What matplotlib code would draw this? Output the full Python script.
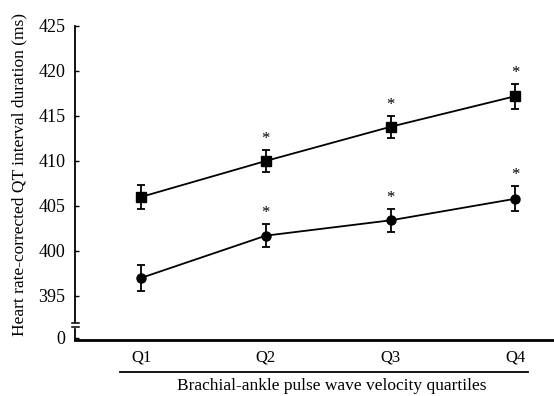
import numpy as np
import matplotlib
matplotlib.use("Agg")
import matplotlib.pyplot as plt
from matplotlib.lines import Line2D

categories = ["Q1", "Q2", "Q3", "Q4"]
upper_mean = [406.0, 410.0, 413.8, 417.2]
upper_err = [1.3, 1.2, 1.2, 1.4]
lower_mean = [397.0, 401.7, 403.4, 405.8]
lower_err = [1.4, 1.3, 1.3, 1.4]
upper_sig = [False, True, True, True]
lower_sig = [False, True, True, True]
yticks = [0, 395, 400, 405, 410, 415, 420, 425]

plt.rcParams['font.family'] = ['Liberation Serif', 'DejaVu Serif']

BREAK = 392.5
ZERO_POS = 390.35

def fwd(y):
    y = np.asarray(y, dtype=float)
    return np.where(y >= BREAK, y, ZERO_POS + y * (BREAK - ZERO_POS) / BREAK)

def inv(t):
    t = np.asarray(t, dtype=float)
    return np.where(t >= BREAK, t, (t - ZERO_POS) * BREAK / (BREAK - ZERO_POS))

fig = plt.figure(figsize=(5.54, 3.96), dpi=100)
ax = fig.add_axes([75/554, 1-340/396, 1-75/554, (340-26)/396])
ax.set_yscale('function', functions=(fwd, inv))

x = np.arange(len(categories))
for mean, err, sig, mk in [(upper_mean, upper_err, upper_sig, 's'),
                           (lower_mean, lower_err, lower_sig, 'o')]:
    ax.errorbar(x, mean, yerr=err, color='black', marker=mk, markersize=6.5,
                linewidth=1.3, elinewidth=1.3, capsize=3, capthick=1.3)
    for xi, m, e, s in zip(x, mean, err, sig):
        if s:
            ax.text(xi, m + e + 0.3, '*', ha='center', va='bottom', fontsize=12)

ax.set_xlim(-0.53, 3.31)
ax.set_ylim(inv(390.1).item(), 425)
ax.set_yticks(yticks)
ax.set_yticklabels([str(v) for v in yticks], fontsize=13)
ax.set_xticks(x)
ax.set_xticklabels(categories, fontsize=12)
ax.tick_params(axis='x', length=0, pad=7)
ax.tick_params(axis='y', length=3, width=1, direction='in', pad=7)

for s in ['top', 'right']:
    ax.spines[s].set_visible(False)
ax.spines['left'].set_linewidth(1.3)
ax.spines['bottom'].set_linewidth(2.0)

ax.set_ylabel('Heart rate-corrected QT interval duration (ms)', fontsize=12.5)
ax.yaxis.set_label_coords((27 - 75) / 479, (340 - 175) / 314)

# axis break marks
trans = ax.get_yaxis_transform()
b_hi = inv(391.95).item()
b_lo = inv(391.55).item()
ax.fill_between([-0.003, 0.003], b_lo, b_hi, transform=trans,
                color='white', clip_on=False, zorder=5)
for yb in (b_hi, b_lo):
    ax.plot([-0.007, 0.008], [yb, yb], transform=trans, color='black', lw=1.1,
            clip_on=False, zorder=6)

fig.add_artist(Line2D([120/554, 528/554], [1-372/396, 1-372/396], color='black', lw=1.3))
fig.text(332/554, 1-386/396, 'Brachial-ankle pulse wave velocity quartiles',
         ha='center', va='center', fontsize=12.5)

fig.savefig('out.png', dpi=100)
